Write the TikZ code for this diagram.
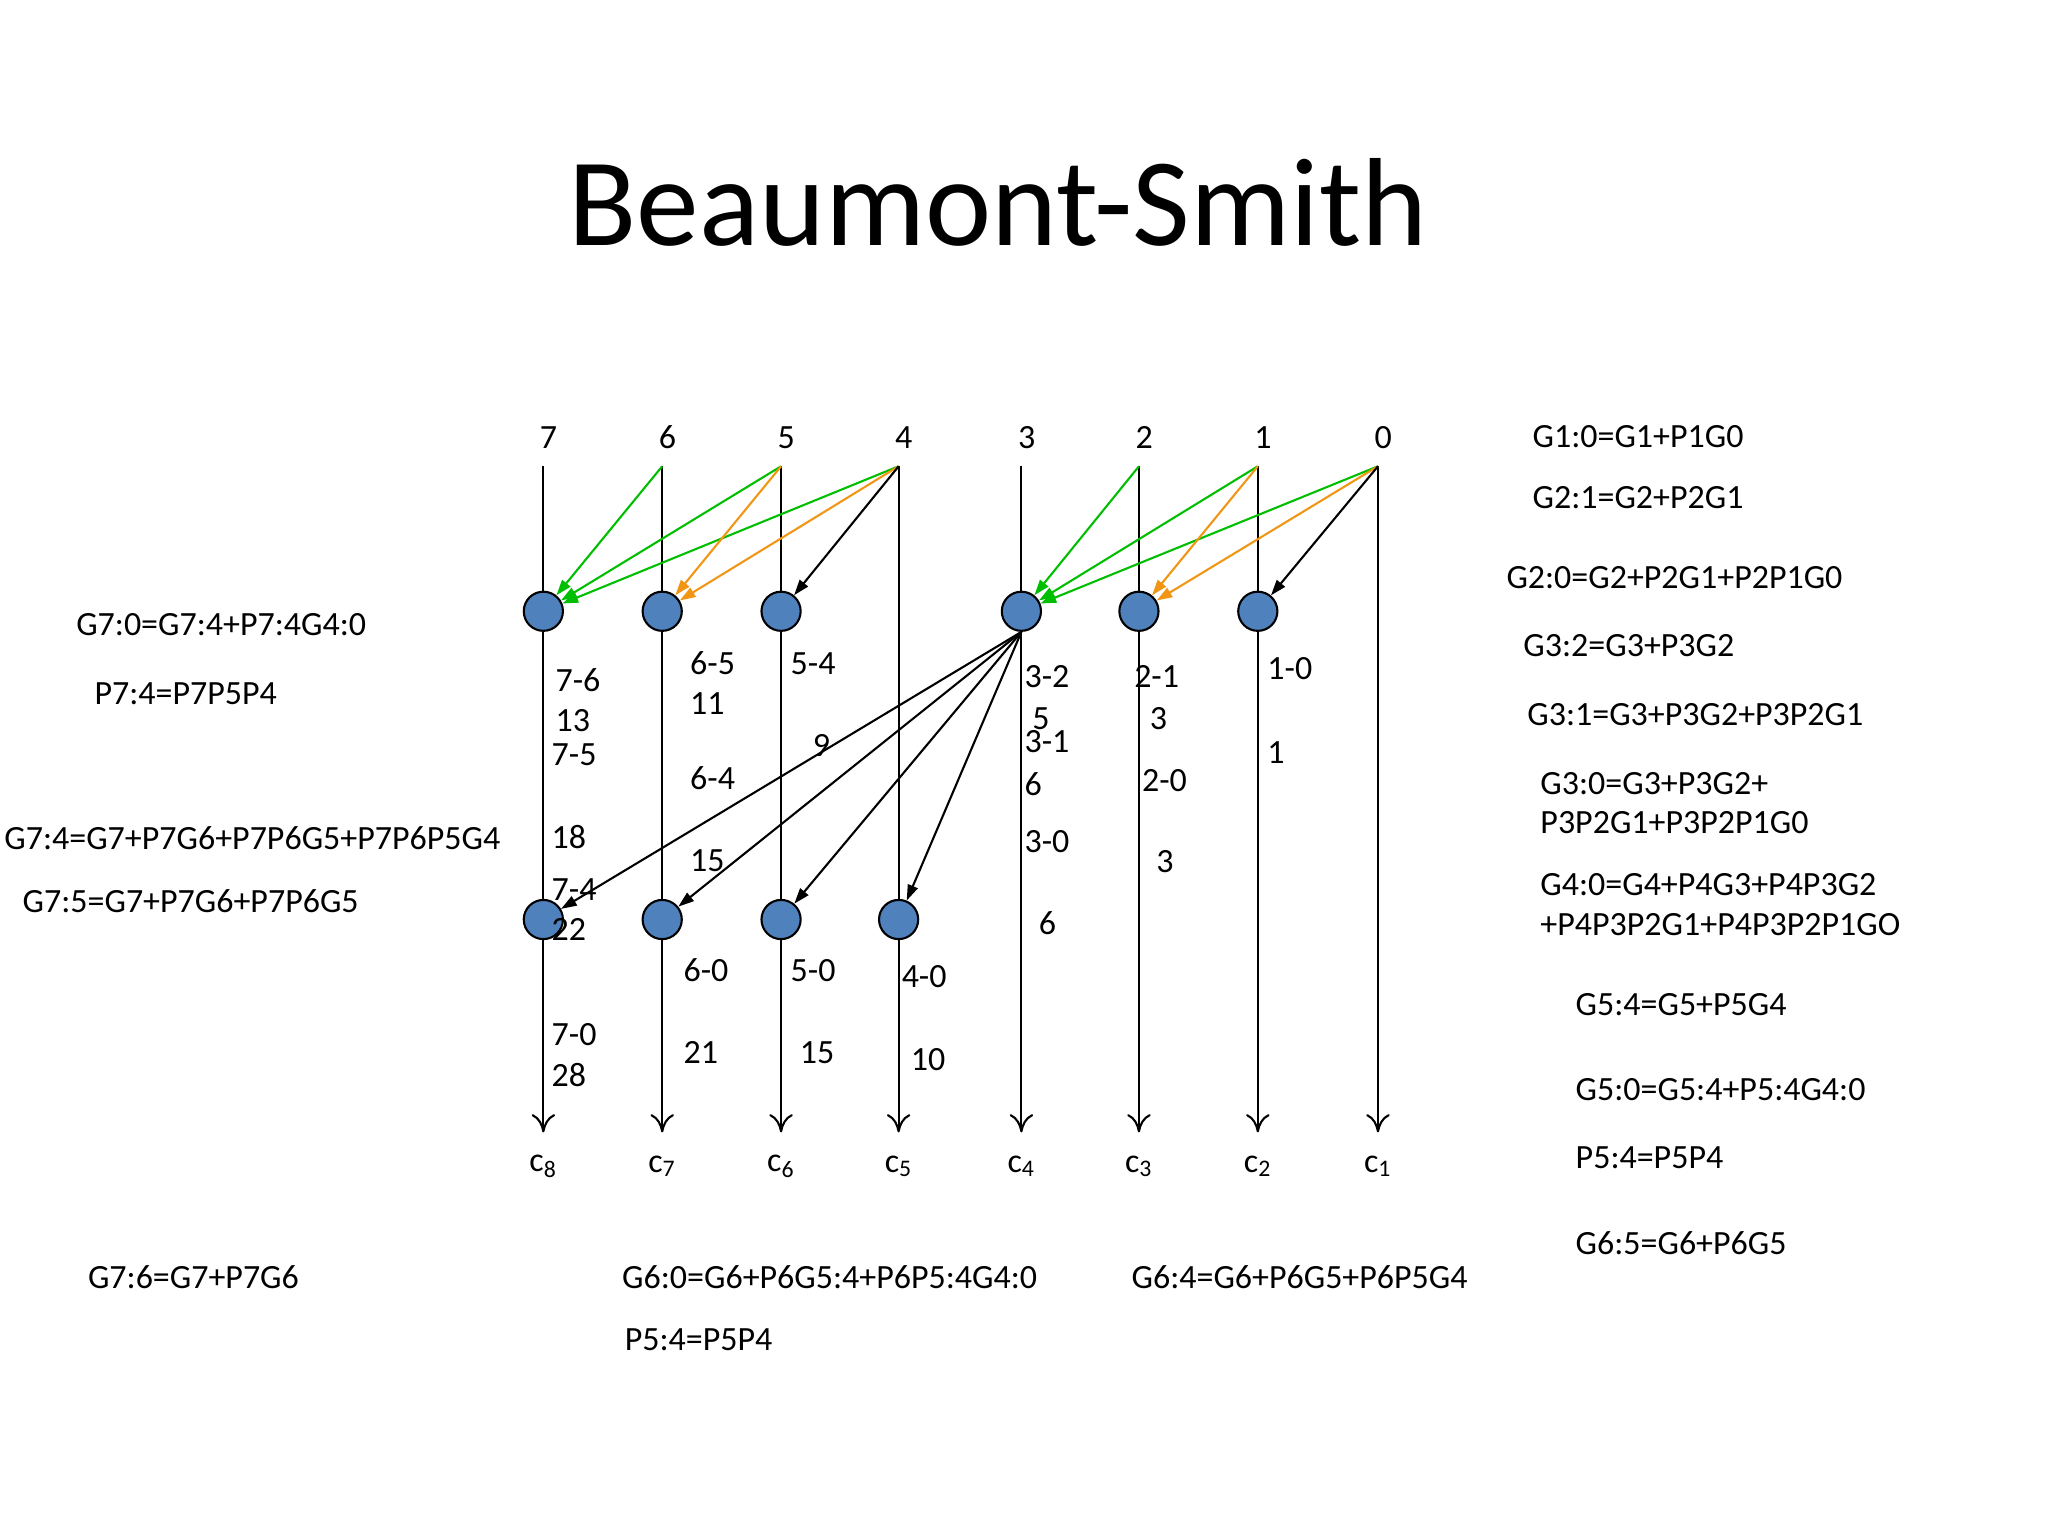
\documentclass[tikz,border=0pt]{standalone}
\usepackage{fontspec}
\setmainfont{Carlito}
\usetikzlibrary{arrows.meta}
\begin{document}
\begin{tikzpicture}[x=0.5pt,y=-0.5pt,
  lbl/.style={anchor=west,inner sep=0pt,font=\fontsize{13pt}{15pt}\selectfont},
  dot/.style={circle,draw=black,thick,fill={rgb,255:red,79;green,129;blue,189},minimum size=15pt,inner sep=0pt},
  col/.style={draw=black,thick,-{To[length=7pt,width=9pt]}},
  ga/.style={draw={rgb,255:red,0;green,190;blue,0},thick,-{Triangle[length=6pt,width=4pt]}},
  oa/.style={draw={rgb,255:red,240;green,150;blue,20},thick,-{Triangle[length=6pt,width=4pt]}},
  ba/.style={draw=black,thick,-{Triangle[length=6pt,width=4pt]}}]
\useasboundingbox (0,0) rectangle (1568,1176);
\node (title) at (764,155) {\fontsize{48pt}{54pt}\selectfont Beaumont-Smith};
% columns
\foreach \n/\x/\c in {7/416/8,6/507/7,5/598/6,4/688/5,3/782/4,2/872/3,1/963/2,0/1055/1}{
  \node[lbl,anchor=center] (h\n) at (\x+4,335) {\n};
  \coordinate (t\n) at (\x,357);
  \coordinate (e\n) at (\x,867);
  \node[lbl,anchor=center] (c\n) at (\x,893) {c\textsubscript{\c}};
}
\foreach \n in {7,6,5,4,3,2,1,0}{\draw[col] (t\n) -- (e\n);}
% dots
\foreach \n/\x in {7/416,6/507,5/598,3/782,2/872,1/963}{\node[dot] (a\n) at (\x,468) {};}
\foreach \n/\x in {7/416,6/507,5/598,4/688}{\node[dot] (b\n) at (\x,704) {};}
% arrows
\draw[ga] (t6) -- (a7); \draw[ga] (t5) -- (a7); \draw[ga] (t4) -- (a7);
\draw[oa] (t5) -- (a6); \draw[oa] (t4) -- (a6); \draw[ba] (t4) -- (a5);
\draw[ga] (t2) -- (a3); \draw[ga] (t1) -- (a3); \draw[ga] (t0) -- (a3);
\draw[oa] (t1) -- (a2); \draw[oa] (t0) -- (a2); \draw[ba] (t0) -- (a1);
\foreach \n in {7,6,5,4}{\draw[ba] (a3.south) -- (b\n);}
% column labels
\foreach \t/\x/\y in {7-6/425/521,13/425/552,7-5/422/578,18/422/641,7-4/422/681,22/422/712,7-0/422/792,28/422/823,
 6-5/528/508,11/528/539,6-4/528/596,15/528/659,6-0/523/743,21/523/806,
 5-4/605/508,9/622/571,5-0/605/743,15/612/806,4-0/690/748,10/697/811,
 3-2/784/518,5/790/550,3-1/784/568,6/784/600,3-0/784/644,6/795/707,
 2-1/868/518,3/880/550,2-0/874/598,3/885/660,1-0/970/512,1/970/576}{
  \node[lbl] at (\x,\y) {\t};}
% equations
\foreach \t/\x/\y in {G7:0=G7:4+P7:4G4:0/58/478,P7:4=P7P5P4/72/531,G7:4=G7+P7G6+P7P6G5+P7P6P5G4/3/642,
 G7:5=G7+P7G6+P7P6G5/17/690,G7:6=G7+P7G6/67/978,G6:0=G6+P6G5:4+P6P5:4G4:0/476/978,P5:4=P5P4/478/1026,
 G6:4=G6+P6G5+P6P5G4/866/978,G1:0=G1+P1G0/1173/334,G2:1=G2+P2G1/1173/381,G2:0=G2+P2G1+P2P1G0/1153/442,
 G3:2=G3+P3G2/1166/494,G3:1=G3+P3G2+P3P2G1/1169/547,G3:0=G3+P3G2+/1179/600,P3P2G1+P3P2P1G0/1179/630,
 G4:0=G4+P4G3+P4P3G2/1179/677,+P4P3P2G1+P4P3P2P1GO/1179/708,G5:4=G5+P5G4/1206/769,
 G5:0=G5:4+P5:4G4:0/1206/834,P5:4=P5P4/1206/886,G6:5=G6+P6G5/1206/952}{
  \node[lbl] at (\x,\y) {\t};}
\end{tikzpicture}
\end{document}
